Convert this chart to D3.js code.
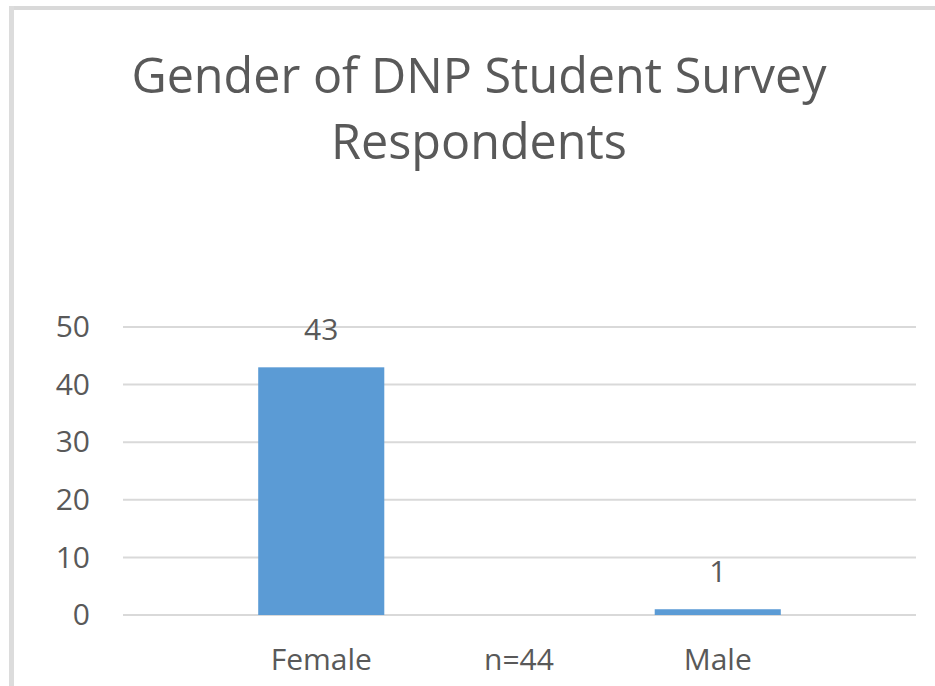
<!DOCTYPE html>
<html>
<head>
<meta charset="utf-8">
<script src="https://cdn.jsdelivr.net/npm/d3@7"></script>
<style>
  html, body { margin: 0; padding: 0; background: #fff; overflow: hidden; }
  svg { display: block; }
  text { font-family: "Open Sans", "Noto Sans", sans-serif; fill: #595959; }
</style>
</head>
<body>
<script>
const categories = ["Female", "Male"];
const values = [43, 1];
const yTicks = [0, 10, 20, 30, 40, 50];
const titleLines = ["Gender of DNP Student Survey", "Respondents"];
const note = "n=44";

const W = 935, H = 686;
const svg = d3.select("body").append("svg").attr("width", W).attr("height", H);

// chart border (only top and left edges visible in the crop)
svg.append("line").attr("x1", 9).attr("x2", W).attr("y1", 8).attr("y2", 8)
  .attr("stroke", "#d9d9d9").attr("stroke-width", 4);
svg.append("line").attr("x1", 11.5).attr("x2", 11.5).attr("y1", 6).attr("y2", H)
  .attr("stroke", "#dcdcdc").attr("stroke-width", 5);

const pLeft = 123, pRight = 916, pTop = 327, pBottom = 615;
const x = d3.scaleBand().domain(categories).range([pLeft, pRight])
  .paddingInner(0.682).paddingOuter(0.341);
const y = d3.scaleLinear().domain([0, 50]).range([pBottom, pTop]);

// title
const title = svg.append("text").attr("text-anchor", "middle").style("font-size", "48.5px");
titleLines.forEach((t, i) => {
  title.append("tspan").attr("x", 479).attr("y", 93 + i * 66).text(t);
});

// gridlines
svg.append("g").selectAll("line").data(yTicks).join("line")
  .attr("x1", pLeft).attr("x2", pRight)
  .attr("y1", d => y(d)).attr("y2", d => y(d))
  .attr("stroke", "#d9d9d9").attr("stroke-width", 2);

// y axis labels
const yAxis = d3.axisLeft(y).tickValues(yTicks).tickSize(0).tickPadding(0);
const gy = svg.append("g").attr("transform", `translate(90,0)`).call(yAxis);
gy.select(".domain").remove();
gy.selectAll("text").style("font-size", "30px").attr("fill", "#595959")
  .style("font-family", '"Open Sans", sans-serif');

// bars
svg.append("g").selectAll("rect").data(categories).join("rect")
  .attr("x", d => x(d)).attr("width", x.bandwidth())
  .attr("y", (d, i) => y(values[i]))
  .attr("height", (d, i) => pBottom - y(values[i]))
  .attr("fill", "#5b9bd5");

// data labels
svg.append("g").selectAll("text").data(categories).join("text")
  .attr("x", d => x(d) + x.bandwidth() / 2)
  .attr("y", (d, i) => y(values[i]) - 27)
  .attr("text-anchor", "middle").style("font-size", "30px")
  .text((d, i) => values[i]);

// x axis labels
const xAxis = d3.axisBottom(x).tickSize(0).tickPadding(0);
const gx = svg.append("g").attr("transform", `translate(0,${pBottom})`).call(xAxis);
gx.select(".domain").remove();
gx.selectAll("text").attr("dy", null).attr("y", 55).style("font-size", "30px")
  .attr("fill", "#595959").style("font-family", '"Open Sans", sans-serif');

// n annotation
svg.append("text").attr("x", 519).attr("y", pBottom + 55)
  .attr("text-anchor", "middle").style("font-size", "30px").text(note);
</script>
</body>
</html>
